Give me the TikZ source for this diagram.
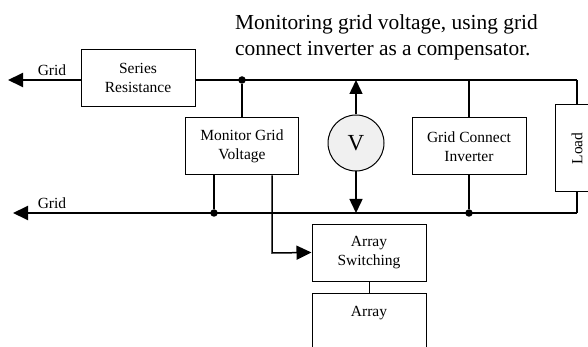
\documentclass[tikz,border=0pt]{standalone}
\usepackage{fontspec}
\setmainfont{Liberation Serif}
\usepackage{tikz}
\usetikzlibrary{positioning,arrows.meta}

\begin{document}
\begin{tikzpicture}[x=1pt, y=-1pt,
  every node/.style={font=\fontsize{15.5}{19}\selectfont},
  blockbox/.style={draw, line width=1pt, rectangle, align=center, minimum width=114pt, minimum height=57pt, inner sep=2pt},
  busline/.style={line width=1.9pt},
  legline/.style={line width=1.5pt},
  gridarrow/.style={busline, -{Triangle[length=15pt, width=14pt]}},
  sensearrow/.style={legline, -{Triangle[length=14pt, width=13pt]}},
  dot/.style={circle, fill=black, inner sep=0pt, minimum size=7.5pt}]
\useasboundingbox (0,0) rectangle (588,347);
% title
\node[anchor=north west, align=left, inner sep=0pt, font=\fontsize{21.4}{26}\selectfont] (title) at (235,14.5) {Monitoring grid voltage, using grid\\connect inverter as a compensator.};
% blocks
\node[blockbox] (series) at (138,78) {Series\\Resistance};
\node[blockbox, minimum width=113pt] (monitor) at (242,146.5) {Monitor Grid\\Voltage};
\node[draw, line width=1pt, circle, fill=black!6, minimum size=56pt, inner sep=0pt, font=\fontsize{23}{26}\selectfont] (meter) at (356,143) {V};
\node[blockbox] (inverter) at (469,146.5) {Grid Connect\\Inverter};
\node[draw, line width=1pt, rectangle, rotate=90, minimum width=87pt, minimum height=44pt, inner sep=2pt] (load) at (577,148.5) {Load};
\node[blockbox] (switching) at (369,252.5) {Array\\Switching};
\node[blockbox, text depth=20pt] (array) at (369,321.5) {Array};
% bus corners and junctions
\coordinate (gt) at (8,80);
\coordinate (gb) at (13,213);
\coordinate (tr) at (577,80);
\coordinate (br) at (577,213);
\coordinate (sw) at (272,253);
\node[dot] (j1) at (242,80) {};
\node[dot] (j2) at (214,213) {};
\node[dot] (j3) at (469,213) {};
% grid labels
\node[anchor=base] (gridtop) at (52,76) {Grid};
\node[anchor=base] (gridbot) at (52,209) {Grid};
% buses
\draw[gridarrow] (series.west |- gt) -- (gt);
\draw[busline] (series.east |- gt) -- (tr);
\draw[gridarrow] (br) -- (gb);
% connections
\draw[legline] (j1) -- (monitor.north);
\draw[legline] (j2) -- (j2 |- monitor.south);
\draw[legline, -{Triangle[length=15pt, width=14pt]}] (sw |- monitor.south) -- (sw) -- (switching.west);
\draw[sensearrow] (meter.north) -- (meter.north |- tr);
\draw[sensearrow] (meter.south) -- (meter.south |- br);
\draw[legline] (inverter.north |- tr) -- (inverter.north);
\draw[legline] (inverter.south) -- (j3);
\draw[legline] (tr) -- (load.east);
\draw[legline] (load.west) -- (br);
\draw[line width=1pt] (switching.south) -- (array.north);
\end{tikzpicture}
\end{document}
